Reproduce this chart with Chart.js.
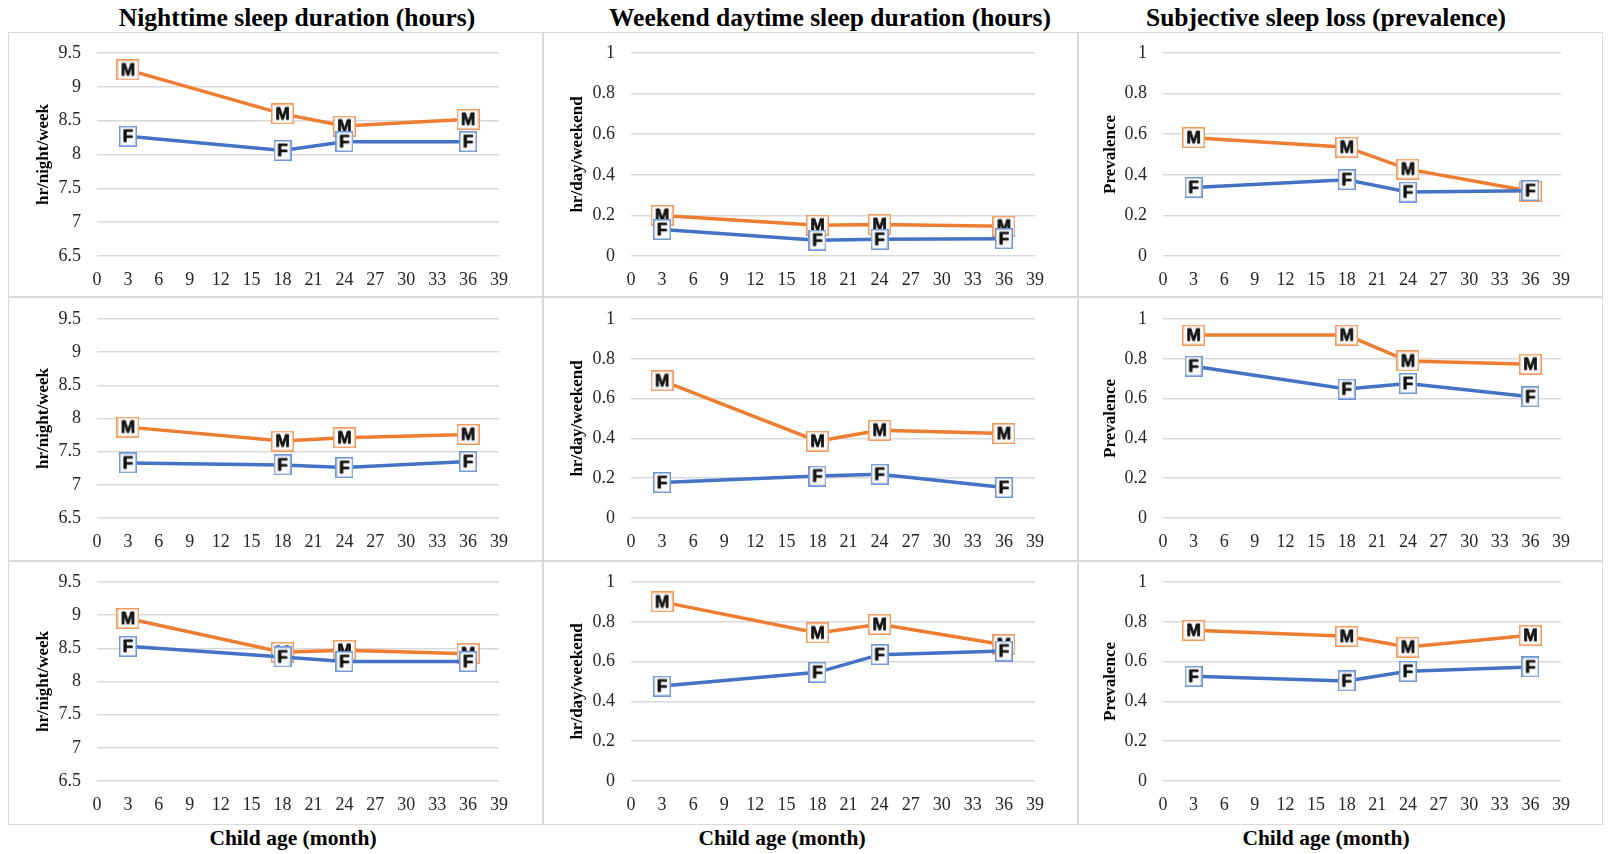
<!DOCTYPE html>
<html>
<head>
<meta charset="utf-8">
<script src="https://cdn.jsdelivr.net/npm/chart.js@4.4.0/dist/chart.umd.min.js"></script>
<style>
  body { margin: 0; background: #fff; width: 1608px; height: 854px; position: relative; overflow: hidden; font-family: "Liberation Serif", serif; }
  .frame { position: absolute; left: 8px; top: 32px; width: 1595px; height: 793px; box-sizing: border-box; border: 1.5px solid #d9d9d9; }
  .vline { position: absolute; top: 32px; width: 1.5px; height: 793px; background: #d9d9d9; }
  .hline { position: absolute; left: 8px; height: 1.5px; width: 1595px; background: #d9d9d9; }
  canvas { position: absolute; }
  .head { position: absolute; font-weight: bold; white-space: nowrap; transform: translate(-50%, -50%); color: #000; }
</style>
</head>
<body>
<div class="frame"></div>
<div class="vline" style="left:542px"></div>
<div class="vline" style="left:1077px"></div>
<div class="hline" style="top:296px"></div>
<div class="hline" style="top:560px"></div>

<script>
// child age (months) where the measurements were taken
const months = [3, 18, 24, 36];
const xRange = [0, 39, 3];

const columnTitles = ['Nighttime sleep duration (hours)', 'Weekend daytime sleep duration (hours)', 'Subjective sleep loss (prevalence)'];
const yTitles = ['hr/night/week', 'hr/day/weekend', 'Prevalence'];
const xTitle = 'Child age (month)';

// y ranges: min, max, step
const nightRange = [6.5, 9.5, 0.5];
const shareRange = [0, 1, 0.2];

// nighttime sleep duration
const night1F = [8.27, 8.06, 8.19, 8.19];
const night1M = [9.25, 8.60, 8.42, 8.52];
const night2F = [7.33, 7.30, 7.26, 7.35];
const night2M = [7.87, 7.66, 7.71, 7.76];
const night3F = [8.53, 8.37, 8.30, 8.30];
const night3M = [8.95, 8.44, 8.47, 8.42];

// weekend daytime sleep duration
const day1F = [0.13, 0.078, 0.082, 0.085];
const day1M = [0.20, 0.152, 0.155, 0.147];
const day2F = [0.178, 0.211, 0.22, 0.153];
const day2M = [0.69, 0.386, 0.441, 0.424];
const day3F = [0.477, 0.546, 0.635, 0.653];
const day3M = [0.90, 0.744, 0.787, 0.685];

// subjective sleep loss
const loss1F = [0.338, 0.376, 0.315, 0.322];
const loss1M = [0.583, 0.536, 0.428, 0.319];
const loss2F = [0.763, 0.648, 0.676, 0.609];
const loss2M = [0.919, 0.919, 0.789, 0.773];
const loss3F = [0.526, 0.503, 0.551, 0.573];
const loss3M = [0.757, 0.727, 0.673, 0.732];

const cols = [
  { x: 8, w: 535, left: 89, right: 44, titleX: 297, labelX: 293, yPad: 25 },
  { x: 543, w: 535, left: 88, right: 43, titleX: 830, labelX: 782, yPad: 24 },
  { x: 1078, w: 525, left: 85, right: 42, titleX: 1326, labelX: 1326, yPad: 22 }
];
const rows = [
  { y: 32, h: 265, top: 21, bottom: 41 },
  { y: 297, h: 264, top: 22, bottom: 43 },
  { y: 561, h: 264, top: 21, bottom: 44 }
];

const panels = [
  [night1F, night1M, day1F, day1M, loss1F, loss1M],
  [night2F, night2M, day2F, day2M, loss2F, loss2M],
  [night3F, night3M, day3F, day3M, loss3F, loss3M]
];
const ranges = [nightRange, shareRange, shareRange];

function marker(letter, edge) {
  const c = document.createElement('canvas');
  const w = letter === 'M' ? 23 : 18, h = 21;
  c.width = w; c.height = h;
  const g = c.getContext('2d');
  g.fillStyle = '#fafafa';
  g.fillRect(0, 0, w, h);
  g.strokeStyle = edge;
  g.lineWidth = 1.5;
  g.strokeRect(0.75, 0.75, w - 1.5, h - 1.5);
  g.font = 'bold 17px "Liberation Sans"';
  g.textAlign = 'center';
  g.textBaseline = 'middle';
  g.lineJoin = 'round';
  g.lineWidth = 3;
  g.strokeStyle = 'rgba(255,255,255,0.85)';
  g.strokeText(letter, w / 2, h / 2 + 1);
  g.lineWidth = 0.8;
  g.strokeStyle = '#111';
  g.strokeText(letter, w / 2, h / 2 + 1);
  g.fillStyle = '#111';
  g.fillText(letter, w / 2, h / 2 + 1);
  return c;
}
const markF = marker('F', '#6f95d6');
const markM = marker('M', '#f39a5e');

function addText(txt, x, y, size) {
  const d = document.createElement('div');
  d.className = 'head';
  d.style.left = x + 'px';
  d.style.top = y + 'px';
  d.style.fontSize = size + 'px';
  d.textContent = txt;
  document.body.appendChild(d);
}

cols.forEach((c, i) => {
  addText(columnTitles[i], c.titleX, 18, 25.5);
  addText(xTitle, c.labelX, 838, 21.5);
});

const tickFont = { family: '"Liberation Serif"', size: 18 };

rows.forEach((r, ri) => {
  cols.forEach((c, ci) => {
    const canvas = document.createElement('canvas');
    canvas.width = c.w;
    canvas.height = r.h;
    canvas.style.left = c.x + 'px';
    canvas.style.top = r.y + 'px';
    document.body.appendChild(canvas);

    const female = panels[ri][ci * 2];
    const male = panels[ri][ci * 2 + 1];
    const yr = ranges[ci];

    new Chart(canvas, {
      type: 'line',
      data: {
        datasets: [{
          label: 'F',
          data: months.map((m, i) => ({ x: m, y: female[i] })),
          borderColor: '#4472c4',
          borderWidth: 3.5,
          pointStyle: markF,
          pointRadius: 10
        }, {
          label: 'M',
          data: months.map((m, i) => ({ x: m, y: male[i] })),
          borderColor: '#ed7d31',
          borderWidth: 3.5,
          pointStyle: markM,
          pointRadius: 10
        }]
      },
      options: {
        responsive: false,
        animation: false,
        layout: { padding: { top: r.top, right: c.right, left: 0, bottom: 0 } },
        plugins: { legend: { display: false }, tooltip: { enabled: false } },
        elements: { line: { tension: 0 } },
        scales: {
          x: {
            type: 'linear',
            min: xRange[0], max: xRange[1],
            ticks: { stepSize: xRange[2], font: tickFont, color: '#262626', padding: 5, maxRotation: 0, autoSkip: false },
            grid: { display: false },
            border: { display: false },
            afterFit: s => { s.height = r.bottom; }
          },
          y: {
            min: yr[0], max: yr[1],
            ticks: {
              stepSize: yr[2], font: tickFont, color: '#262626', padding: 16,
              callback: v => String(Math.round(v * 10) / 10)
            },
            grid: { color: '#d9d9d9', lineWidth: 1.5, drawTicks: false },
            border: { display: false },
            title: {
              display: true, text: yTitles[ci], color: '#000',
              font: { family: '"Liberation Serif"', size: 17, weight: 'bold' },
              padding: { top: c.yPad, bottom: 0 }
            },
            afterFit: s => {
              s.width = c.left;
              // the tick padding would otherwise push the plot top down
              s.paddingTop = 0;
              s.paddingBottom = 0;
            }
          }
        }
      }
    });
  });
});
</script>
</body>
</html>
